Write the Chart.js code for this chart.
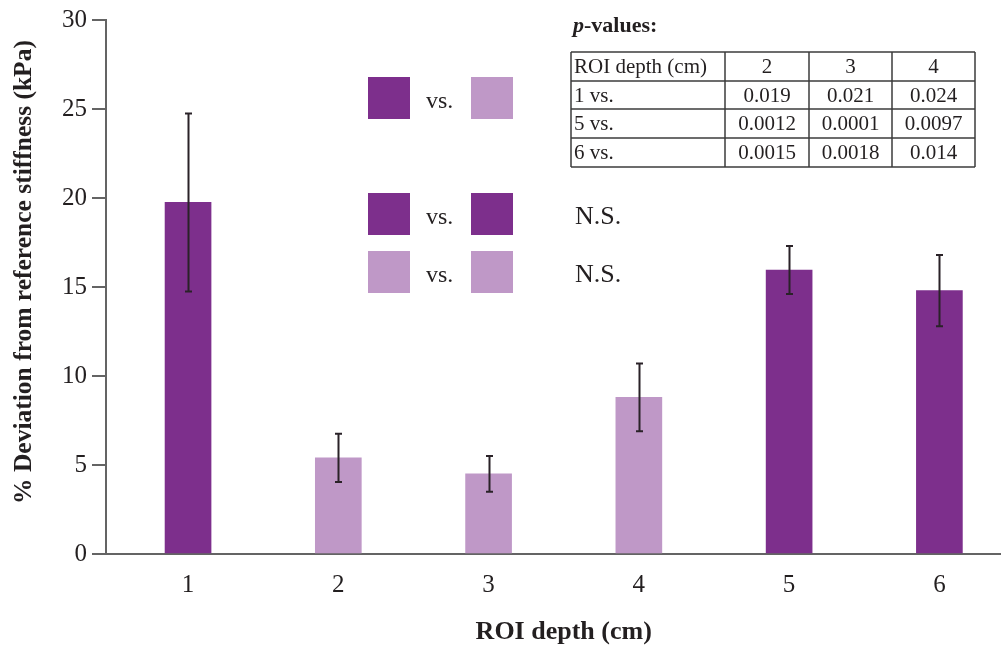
<!DOCTYPE html>
<html>
<head>
<meta charset="utf-8">
<script src="https://cdn.jsdelivr.net/npm/chart.js@4.4.1/dist/chart.umd.min.js"></script>
<style>
  html,body{margin:0;padding:0;background:#fff}
  #c{display:block}
</style>
</head>
<body>
<canvas id="c" width="1001" height="648"></canvas>
<script>
// data
const depths = [1, 2, 3, 4, 5, 6]
const means = [19.75, 5.4, 4.5, 8.8, 15.95, 14.8]
const errs = [5.0, 1.35, 1.0, 1.9, 1.35, 2.0]
const groups = ['dark', 'light', 'light', 'light', 'dark', 'dark']
const yTicks = [0, 5, 10, 15, 20, 25, 30]

// p-value table
const tableHead = ['ROI depth (cm)', '2', '3', '4']
const tableRows = ['1 vs.', '5 vs.', '6 vs.']
const pRow1 = ['0.019', '0.021', '0.024']
const pRow5 = ['0.0012', '0.0001', '0.0097']
const pRow6 = ['0.0015', '0.0018', '0.014']

// key rows: left square, right square, note
const keyLeft = ['dark', 'dark', 'light']
const keyRight = ['light', 'dark', 'light']
const keyNote = ['', 'N.S.', 'N.S.']

const COLORS = {dark: '#7d2f8c', light: '#bf98c7'}
const INK = '#231f20'
const AXIS = '#646464'
const FONT = "'Liberation Serif', 'DejaVu Serif', serif"

const errorBars = {
  id: 'errorBars',
  afterDatasetsDraw(chart){
    const ctx = chart.ctx
    const y = chart.scales.y
    const meta = chart.getDatasetMeta(0)
    ctx.save()
    ctx.strokeStyle = '#2a2228'
    ctx.lineWidth = 2
    meta.data.forEach((bar, i) => {
      const x = Math.round(bar.x) + 0.5
      const top = y.getPixelForValue(means[i] + errs[i])
      const bot = y.getPixelForValue(means[i] - errs[i])
      ctx.beginPath()
      ctx.moveTo(x, top); ctx.lineTo(x, bot)
      ctx.moveTo(x - 3.5, top); ctx.lineTo(x + 3.5, top)
      ctx.moveTo(x - 3.5, bot); ctx.lineTo(x + 3.5, bot)
      ctx.stroke()
    })
    ctx.restore()
  }
}

const notes = {
  id: 'notes',
  afterDraw(chart){
    const ctx = chart.ctx
    const xs = chart.scales.x
    ctx.save()
    ctx.fillStyle = INK
    ctx.textBaseline = 'middle'

    // x axis title, centred under the bars
    ctx.textAlign = 'center'
    ctx.font = 'bold 26px ' + FONT
    const mid = (xs.getPixelForValue(depths[0]) + xs.getPixelForValue(depths[depths.length - 1])) / 2
    ctx.fillText('ROI depth (cm)', mid, 632)

    // y axis title
    ctx.save()
    ctx.translate(24, 272)
    ctx.rotate(-Math.PI / 2)
    ctx.font = 'bold 25.5px ' + FONT
    ctx.fillText('% Deviation from reference stiffness (kPa)', 0, 0)
    ctx.restore()

    // key squares
    const rowsY = [77, 193, 251]
    rowsY.forEach((ty, i) => {
      ctx.fillStyle = COLORS[keyLeft[i]]
      ctx.fillRect(368, ty, 42, 42)
      ctx.fillStyle = COLORS[keyRight[i]]
      ctx.fillRect(471, ty, 42, 42)
      ctx.fillStyle = INK
      ctx.textAlign = 'left'
      ctx.font = '24px ' + FONT
      ctx.fillText('vs.', 426, ty + 25)
      ctx.font = '26px ' + FONT
      if (keyNote[i]) ctx.fillText(keyNote[i], 575, ty + 24)
    })

    // p-values title
    ctx.textAlign = 'left'
    ctx.font = 'italic bold 22px ' + FONT
    ctx.fillText('p', 573, 26)
    const pw = ctx.measureText('p').width
    ctx.font = 'bold 22px ' + FONT
    ctx.fillText('-values:', 573 + pw, 26)

    // table
    const L = 571, R = 975
    const cols = [L, 725, 809, 892, R]
    const rows = [52, 81, 109, 138, 167]
    ctx.strokeStyle = '#3c3c3c'
    ctx.lineWidth = 1.5
    ctx.beginPath()
    rows.forEach(ry => { ctx.moveTo(L, ry); ctx.lineTo(R, ry) })
    cols.forEach(cx => { ctx.moveTo(cx, rows[0]); ctx.lineTo(cx, rows[rows.length - 1]) })
    ctx.stroke()

    ctx.font = '21px ' + FONT
    const body = [tableHead, [tableRows[0]].concat(pRow1), [tableRows[1]].concat(pRow5), [tableRows[2]].concat(pRow6)]
    body.forEach((r, ri) => {
      const cy = (rows[ri] + rows[ri + 1]) / 2 + 1
      r.forEach((txt, ci) => {
        if (ci === 0){
          ctx.textAlign = 'left'
          ctx.fillText(txt, L + 3, cy)
        } else {
          ctx.textAlign = 'center'
          ctx.fillText(txt, (cols[ci] + cols[ci + 1]) / 2, cy)
        }
      })
    })
    ctx.restore()
  }
}

new Chart(document.getElementById('c'), {
  type: 'bar',
  data: {
    datasets: [{
      data: depths.map((d, i) => ({x: d, y: means[i]})),
      backgroundColor: groups.map(g => COLORS[g]),
      borderWidth: 0,
      barThickness: 46
    }]
  },
  options: {
    responsive: false,
    animation: false,
    layout: {padding: {top: 16, right: 0, left: 0, bottom: 0}},
    plugins: {legend: {display: false}, tooltip: {enabled: false}},
    scales: {
      x: {
        type: 'linear',
        offset: false,
        min: 0.454,
        max: 6.41,
        afterBuildTicks: s => { s.ticks = depths.map(v => ({value: v})) },
        afterFit: s => { s.height = 94 },
        grid: {display: false},
        border: {display: true, color: AXIS, width: 2},
        ticks: {color: INK, font: {family: FONT, size: 25}, padding: 8, maxRotation: 0}
      },
      y: {
        min: 0,
        max: 30,
        afterBuildTicks: s => { s.ticks = yTicks.map(v => ({value: v})) },
        afterFit: s => { s.width = 106 },
        grid: {drawOnChartArea: false, color: AXIS, tickLength: 14, lineWidth: 2},
        border: {display: true, color: AXIS, width: 2},
        ticks: {color: INK, font: {family: FONT, size: 25}, padding: 5}
      }
    }
  },
  plugins: [errorBars, notes]
})
</script>
</body>
</html>
